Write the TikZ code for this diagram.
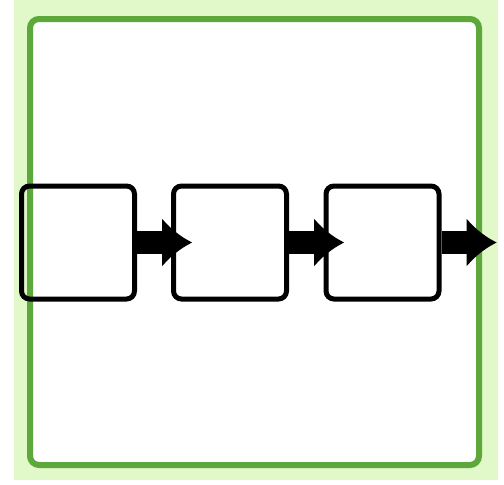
\documentclass[tikz,border=0pt]{standalone}
\usetikzlibrary{arrows.meta,calc}
\definecolor{bgGreen}{RGB}{225,248,200}
\definecolor{lineGreen}{RGB}{92,168,58}
\begin{document}
\begin{tikzpicture}[x=1pt,y=-1pt,
  stagebox/.style={draw=black,line width=5pt,rounded corners=8pt,minimum width=113pt,minimum height=113pt,inner sep=0pt},
  flowarrow/.style={line width=23pt,-{Latex[length=30pt,width=50pt]}}]
\useasboundingbox (0,0) rectangle (504,485);
\fill[bgGreen] (14,0) rectangle (498,480);
\draw[lineGreen,fill=white,line width=6pt,rounded corners=9pt] (30,19) rectangle (479,465);
\node[stagebox] (b1) at (78,242.5) {};
\node[stagebox] (b2) at (230,242.5) {};
\node[stagebox] (b3) at (382.5,242.5) {};
\coordinate (t1) at ($(b1.east)+(55,0)$);
\coordinate (t2) at ($(b2.east)+(55,0)$);
\coordinate (t3) at ($(b3.east)+(55,0)$);
\draw[flowarrow] (b1.east) -- (t1);
\draw[flowarrow] (b2.east) -- (t2);
\draw[flowarrow] (b3.east) -- (t3);
\end{tikzpicture}
\end{document}
